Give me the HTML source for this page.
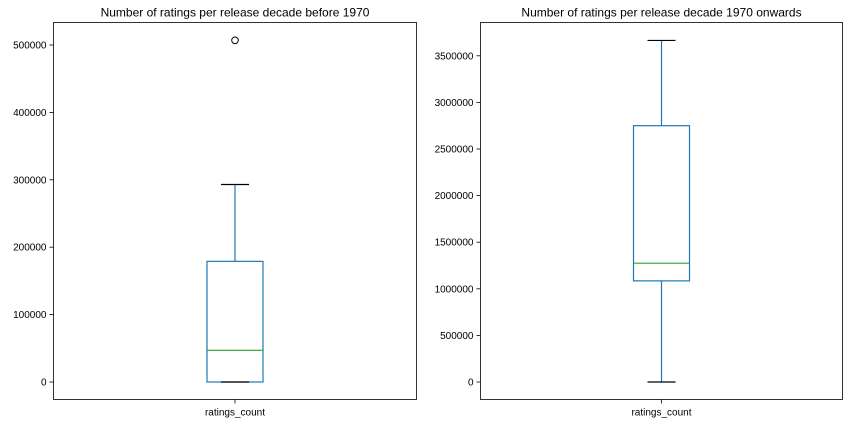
<!DOCTYPE html>
<html><head><meta charset="utf-8"><style>
body{margin:0;background:#fff;width:849px;height:424px;overflow:hidden}
text{font-family:"Liberation Sans","DejaVu Sans",sans-serif}
</style></head><body>
<svg id="c" width="849" height="424" xmlns="http://www.w3.org/2000/svg"></svg>
<script>
const leftTicks=[0,100000,200000,300000,400000,500000];
const leftStats=[0,0,47000,179000,293000]; // min,q1,median,q3,max
const leftOutliers=[507000];
const rightTicks=[0,500000,1000000,1500000,2000000,2500000,3000000,3500000];
const rightStats=[0,1085000,1275000,2750000,3665000];
const rightOutliers=[];
const category=["ratings_count"];
const titles=["Number of ratings per release decade before 1970","Number of ratings per release decade 1970 onwards"];

const NS="http://www.w3.org/2000/svg";
const svg=document.getElementById('c');
function mk(t,a,p){const e=document.createElementNS(NS,t);for(const k in a)e.setAttribute(k,a[k]);(p||svg).appendChild(e);return e;}
function panel(x0,x1,y0,y1,zeroY,pxPerUnit,ticks,stats,outs,title,pref){
  const g=mk('g',{});
  
  
  const y=v=>zeroY-v*pxPerUnit;
  const cx=(x0+x1)/2, hw=28;
  ticks.forEach(t=>{
    const l=mk('line',{x1:x0-4,x2:x0,y1:y(t),y2:y(t),stroke:'#000','stroke-width':0.8},g);
    
    
    const tx=mk('text',{x:x0-7,y:y(t)+3.5,'font-size':10,'text-anchor':'end'},g);
    tx.textContent=String(t);
    
    
  });
  const [mn,q1,md,q3,mx]=stats;
  const b='#1f77b4';
  const box=mk('rect',{x:cx-hw,y:y(q3),width:2*hw,height:y(q1)-y(q3),fill:'none',stroke:b,'stroke-width':1.2},g);
  
  
  const w1=mk('line',{x1:cx,x2:cx,y1:y(q1),y2:y(mn),stroke:b,'stroke-width':1.2},g);
  
  
  const w2=mk('line',{x1:cx,x2:cx,y1:y(q3),y2:y(mx),stroke:b,'stroke-width':1.2},g);
  
  
  [mn,mx].forEach(v=>{
    const c=mk('line',{x1:cx-14,x2:cx+14,y1:y(v),y2:y(v),stroke:'#000','stroke-width':1.2},g);
    
    
  });
  const m=mk('line',{x1:cx-hw,x2:cx+hw,y1:y(md),y2:y(md),stroke:'#2ca02c','stroke-width':1.2},g);
  
  
  outs.forEach(v=>{
    const o=mk('circle',{cx:cx,cy:y(v),r:3.3,fill:'none',stroke:'#000','stroke-width':1},g);
    
    
  });
  const fr=mk('rect',{x:x0,y:y0,width:x1-x0,height:y1-y0,fill:'none',stroke:'#000','stroke-width':0.8},g);
  
  
  const xt=mk('line',{x1:cx,x2:cx,y1:y1,y2:y1+4,stroke:'#000','stroke-width':0.8},g);
  
  
  const xl=mk('text',{x:cx,y:y1+16,'font-size':10,'text-anchor':'middle'},g);
  xl.textContent=category[0];
  
  
  const tt=mk('text',{x:cx,y:y0-6,'font-size':12,'text-anchor':'middle'},g);
  tt.textContent=title;
  
  
}
panel(53.5,416.5,22.5,399.5,382,67.4/100000,leftTicks,leftStats,leftOutliers,titles[0],'left');
panel(480.5,842.5,22.5,399.5,382,46.6/500000,rightTicks,rightStats,rightOutliers,titles[1],'right');
</script>
</body></html>
